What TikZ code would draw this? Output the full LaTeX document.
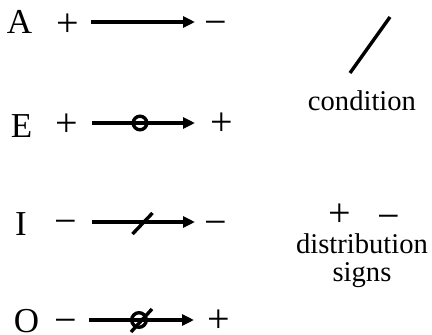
\documentclass[tikz,border=0pt]{standalone}
\usepackage{fontspec}
\setmainfont{Liberation Serif}
\usetikzlibrary{arrows.meta}

\begin{document}
\begin{tikzpicture}[x=1pt, y=-1pt,
        letter/.style={anchor=base, inner sep=0pt, font=\fontsize{35}{35}\selectfont},
        sign/.style={anchor=base, inner sep=0pt, font=\fontsize{40}{40}\selectfont},
        lbl/.style={anchor=base, inner sep=0pt, font=\fontsize{28.6}{28.6}\selectfont},
        conn/.style={line width=3.4pt, -{Triangle[length=12pt, width=11pt]}},
        bar/.style={line width=3.4pt}]
        \useasboundingbox (0,0) rectangle (432,335);

        % --- A row ---
        \node[letter] (lA) at (19.5,33) {A};
        \node[sign] (pA) at (67.5,36) {+};
        \node[sign] (qA) at (216,35.5) {−};
        \coordinate (As) at (91,22);
        \coordinate (At) at (195,22);
        \draw[conn] (As) -- (At);

        % --- E row ---
        \node[letter] (lE) at (21.5,137) {E};
        \node[sign] (pE) at (67,136) {+};
        \node[sign] (qE) at (221.5,135) {+};
        \coordinate (Es) at (92,123);
        \coordinate (Et) at (195,123);
        \draw[conn] (Es) -- (Et);
        \draw[bar] (140,123) circle (6.8);

        % --- I row ---
        \node[letter] (lI) at (21,235) {I};
        \node[sign] (pI) at (66,234.5) {−};
        \node[sign] (qI) at (216,235.5) {−};
        \coordinate (Is) at (92,222);
        \coordinate (It) at (195,222);
        \draw[conn] (Is) -- (It);
        \draw[bar] (132.5,234) -- (152.5,213);

        % --- O row ---
        \node[letter] (lO) at (26.5,332) {O};
        \node[sign] (pO) at (66,333.5) {−};
        \node[sign] (qO) at (218.5,332.5) {+};
        \coordinate (Os) at (89,320);
        \coordinate (Ot) at (194,320);
        \draw[conn] (Os) -- (Ot);
        \draw[bar] (139,320) circle (7.3);
        \draw[bar] (131,332) -- (152,309);

        % --- legend ---
        \draw[bar] (350,73) -- (390,17);
        \node[lbl] (cond) at (362,110) {condition};
        \node[sign] (plus) at (340,226) {+};
        \node[sign] (minus) at (389,229) {−};
        \node[lbl] (dist) at (362,253) {distribution};
        \node[lbl] (sgn) at (362,281) {signs};
    \end{tikzpicture}
\end{document}
